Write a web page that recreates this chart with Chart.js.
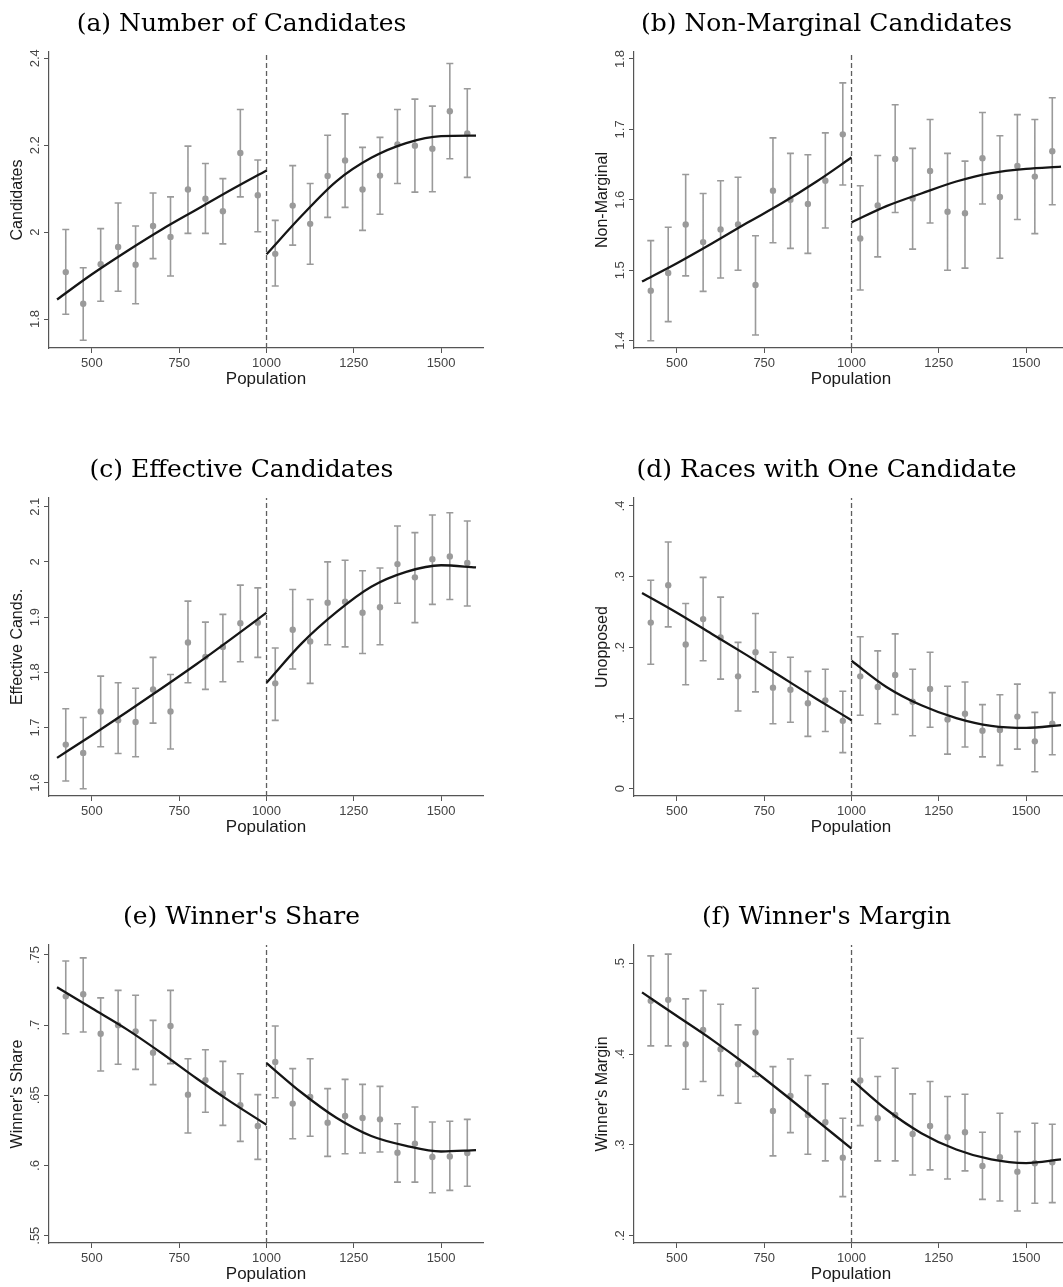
<!DOCTYPE html>
<html>
<head>
<meta charset="utf-8">
<script src="https://cdn.jsdelivr.net/npm/chart.js@4.4.1/dist/chart.umd.min.js"></script>
<style>
html,body{margin:0;padding:0;background:#fff;overflow:hidden;width:1063px;height:1287px;position:relative;}
canvas{position:absolute;}
</style>
</head>
<body>
<canvas id="pa" width="496" height="400" style="left:0px;top:0px"></canvas>
<canvas id="pb" width="496" height="400" style="left:585px;top:0px"></canvas>
<canvas id="pc" width="496" height="402" style="left:0px;top:446px"></canvas>
<canvas id="pd" width="496" height="402" style="left:585px;top:446px"></canvas>
<canvas id="pe" width="496" height="402" style="left:0px;top:893px"></canvas>
<canvas id="pf" width="496" height="402" style="left:585px;top:893px"></canvas>
<script>
// ---------- shared x data ----------
const bins = [425,475,525,575,625,675,725,775,825,875,925,975,1025,1075,1125,1175,1225,1275,1325,1375,1425,1475,1525,1575];
const fitXLeft = [400,500,600,700,800,900,1000];
const fitXRight = [1000,1100,1200,1300,1400,1500,1600];
const xTicks = [500,750,1000,1250,1500];
const xTickLabels = ['500','750','1000','1250','1500'];
const cutoff = 1000;

// ---------- (a) Number of Candidates ----------
const candMean = [1.908,1.835,1.926,1.966,1.925,2.014,1.989,2.098,2.077,2.048,2.182,2.085,1.950,2.061,2.019,2.129,2.165,2.098,2.130,2.202,2.199,2.192,2.278,2.227];
const candHi   = [2.006,1.918,2.008,2.067,2.014,2.090,2.081,2.198,2.158,2.123,2.282,2.166,2.027,2.153,2.112,2.223,2.272,2.195,2.218,2.282,2.306,2.290,2.388,2.330];
const candLo   = [1.811,1.751,1.841,1.864,1.835,1.939,1.899,1.997,1.997,1.973,2.081,2.001,1.876,1.970,1.926,2.034,2.057,2.004,2.041,2.112,2.092,2.093,2.169,2.126];
const candFitL = [1.845,1.903,1.956,2.006,2.052,2.098,2.142];
const candFitR = [1.949,2.037,2.117,2.171,2.205,2.221,2.222];
const candTicks = [1.8,2.0,2.2,2.4];
const candTickLabels = ['1.8','2','2.2','2.4'];

// ---------- (b) Non-Marginal Candidates ----------
const nmMean = [1.471,1.496,1.565,1.540,1.558,1.565,1.479,1.613,1.600,1.594,1.627,1.693,1.545,1.592,1.658,1.602,1.641,1.583,1.581,1.659,1.604,1.648,1.633,1.669];
const nmHi   = [1.542,1.561,1.636,1.609,1.627,1.632,1.549,1.688,1.666,1.664,1.695,1.766,1.620,1.663,1.735,1.673,1.714,1.666,1.655,1.724,1.691,1.721,1.714,1.745];
const nmLo   = [1.400,1.427,1.492,1.470,1.489,1.500,1.408,1.539,1.531,1.524,1.560,1.621,1.472,1.519,1.582,1.530,1.567,1.500,1.503,1.594,1.517,1.572,1.552,1.593];
const nmFitL = [1.484,1.510,1.538,1.567,1.595,1.626,1.660];
const nmFitR = [1.568,1.591,1.609,1.626,1.638,1.644,1.647];
const nmTicks = [1.4,1.5,1.6,1.7,1.8];
const nmTickLabels = ['1.4','1.5','1.6','1.7','1.8'];

// ---------- (c) Effective Candidates ----------
const effMean = [1.669,1.654,1.729,1.713,1.710,1.769,1.729,1.854,1.828,1.846,1.889,1.890,1.780,1.877,1.856,1.926,1.928,1.908,1.918,1.996,1.972,2.005,2.010,1.998];
const effHi   = [1.734,1.718,1.793,1.781,1.771,1.827,1.796,1.929,1.891,1.905,1.958,1.953,1.844,1.950,1.932,2.000,2.003,1.984,1.989,2.065,2.053,2.085,2.089,2.074];
const effLo   = [1.603,1.589,1.665,1.653,1.647,1.708,1.661,1.781,1.769,1.783,1.819,1.827,1.713,1.806,1.780,1.850,1.846,1.834,1.850,1.925,1.890,1.923,1.932,1.920];
const effFitL = [1.645,1.686,1.728,1.771,1.815,1.861,1.908];
const effFitR = [1.781,1.852,1.909,1.955,1.982,1.994,1.990];
const effTicks = [1.6,1.7,1.8,1.9,2.0,2.1];
const effTickLabels = ['1.6','1.7','1.8','1.9','2','2.1'];

// ---------- (d) Races with One Candidate ----------
const unoMean = [0.235,0.288,0.204,0.240,0.214,0.159,0.193,0.143,0.140,0.121,0.125,0.096,0.159,0.144,0.161,0.123,0.141,0.098,0.106,0.082,0.083,0.102,0.067,0.092];
const unoHi   = [0.295,0.349,0.262,0.299,0.271,0.207,0.248,0.193,0.186,0.166,0.169,0.138,0.215,0.195,0.219,0.169,0.193,0.145,0.151,0.119,0.133,0.148,0.108,0.136];
const unoLo   = [0.176,0.229,0.147,0.181,0.155,0.110,0.137,0.092,0.094,0.074,0.081,0.051,0.104,0.092,0.105,0.075,0.087,0.049,0.059,0.045,0.033,0.056,0.024,0.048];
const unoFitL = [0.277,0.249,0.219,0.189,0.158,0.127,0.097];
const unoFitR = [0.181,0.144,0.118,0.100,0.089,0.086,0.090];
const unoTicks = [0,0.1,0.2,0.3,0.4];
const unoTickLabels = ['0','.1','.2','.3','.4'];

// ---------- (e) Winner's Share ----------
const shareMean = [0.7205,0.7220,0.6939,0.7000,0.6956,0.6804,0.6994,0.6505,0.6607,0.6512,0.6429,0.6281,0.6738,0.6441,0.6488,0.6305,0.6353,0.6338,0.6329,0.6091,0.6156,0.6061,0.6065,0.6089];
const shareHi   = [0.7457,0.7479,0.7194,0.7248,0.7213,0.7034,0.7248,0.6761,0.6825,0.6742,0.6654,0.6505,0.6994,0.6690,0.6761,0.6548,0.6614,0.6578,0.6564,0.6298,0.6417,0.6310,0.6315,0.6329];
const shareLo   = [0.6939,0.6951,0.6673,0.6721,0.6685,0.6576,0.6726,0.6232,0.6379,0.6286,0.6172,0.6044,0.6483,0.6191,0.6208,0.6065,0.6084,0.6089,0.6096,0.5882,0.5882,0.5806,0.5823,0.5852];
const shareFitL = [0.727,0.712,0.697,0.680,0.662,0.645,0.629];
const shareFitR = [0.673,0.652,0.634,0.621,0.614,0.610,0.611];
const shareTicks = [0.55,0.6,0.65,0.7,0.75];
const shareTickLabels = ['.55','.6','.65','.7','.75'];

// ---------- (f) Winner's Margin ----------
const marMean = [0.4587,0.4598,0.4109,0.4267,0.4054,0.3889,0.4238,0.3375,0.3540,0.3331,0.3250,0.2860,0.3709,0.3294,0.3331,0.3121,0.3209,0.3084,0.3140,0.2769,0.2864,0.2706,0.2798,0.2809];
const marHi   = [0.5082,0.5101,0.4609,0.4700,0.4550,0.4322,0.4726,0.3863,0.3947,0.3764,0.3672,0.3294,0.4175,0.3753,0.3845,0.3562,0.3698,0.3533,0.3558,0.3140,0.3349,0.3147,0.3239,0.3228];
const marLo   = [0.4091,0.4091,0.3613,0.3698,0.3544,0.3459,0.3753,0.2879,0.3136,0.2897,0.2824,0.2431,0.3213,0.2824,0.2824,0.2669,0.2725,0.2625,0.2714,0.2401,0.2383,0.2273,0.2357,0.2365];
const marFitL = [0.468,0.442,0.416,0.388,0.358,0.327,0.296];
const marFitR = [0.372,0.339,0.313,0.295,0.284,0.280,0.284];
const marTicks = [0.2,0.3,0.4,0.5];
const marTickLabels = ['.2','.3','.4','.5'];

// ---------- drawing ----------
const SANS = "'Liberation Sans', Arial, sans-serif";
const SERIF = "'DejaVu Serif', serif";
const Y_AXIS_W = 49, X_AXIS_H = 52, LABEL_CENTER_FROM_AXIS = 14, TICK_LEN = 5;
const CAP = 10;

const measureCtx = document.createElement('canvas').getContext('2d');
measureCtx.font = "13px " + SANS;

function errorBarData(xs, lo, hi) {
  const d = [];
  xs.forEach((x, i) => {
    d.push({x: x, y: lo[i]}, {x: x, y: hi[i]}, {x: x, y: null});
    d.push({x: x - CAP, y: hi[i]}, {x: x + CAP, y: hi[i]}, {x: x, y: null});
    d.push({x: x - CAP, y: lo[i]}, {x: x + CAP, y: lo[i]}, {x: x, y: null});
  });
  return d;
}
function pts(xs, ys) { return xs.map((x, i) => ({x: x, y: ys[i]})); }

function makePanel(id, title, yTitle, mean, lo, hi, fitL, fitR, yTicks, yLabels, yMin, yMax) {
  const widest = Math.max(...yLabels.map(l => measureCtx.measureText(l).width));
  const yPad = LABEL_CENTER_FROM_AXIS - TICK_LEN - widest / 2;
  new Chart(document.getElementById(id), {
    type: 'scatter',
    data: {
      datasets: [
        {data: [{x: cutoff, y: yMin}, {x: cutoff, y: yMax}], showLine: true, pointRadius: 0,
         borderColor: '#5e5e5e', borderWidth: 1.3, borderDash: [5, 3], order: 4},
        {data: errorBarData(bins, lo, hi), showLine: true, spanGaps: false, pointRadius: 0,
         borderColor: '#9a9a9a', borderWidth: 1.6, order: 3},
        {data: pts(bins, mean), pointRadius: 3.2, backgroundColor: '#9a9a9a', borderWidth: 0, order: 2},
        {data: pts(fitXLeft, fitL), showLine: true, pointRadius: 0, cubicInterpolationMode: 'monotone',
         borderColor: '#151515', borderWidth: 2.3, order: 1},
        {data: pts(fitXRight, fitR), showLine: true, pointRadius: 0, cubicInterpolationMode: 'monotone',
         borderColor: '#151515', borderWidth: 2.3, order: 0}
      ]
    },
    options: {
      responsive: false, animation: false, events: [],
      layout: {padding: {left: 0, right: 13, top: 0, bottom: 0}},
      plugins: {
        legend: {display: false}, tooltip: {enabled: false},
        title: {display: true, text: title, color: '#000',
                font: {family: SERIF, size: 25, weight: 'normal', lineHeight: 1.2},
                padding: {top: 9, bottom: 13}}
      },
      scales: {
        x: {
          type: 'linear', min: 377, max: 1620,
          afterBuildTicks: s => { s.ticks = xTicks.map(v => ({value: v})); },
          afterFit: s => { s.height = X_AXIS_H; },
          grid: {drawOnChartArea: false, drawTicks: true, tickLength: TICK_LEN, color: '#555', lineWidth: 1},
          border: {display: true, color: '#555', width: 1.2},
          ticks: {font: {family: SANS, size: 13}, color: '#444', padding: 3, maxRotation: 0, autoSkip: false,
                  callback: (v, i) => xTickLabels[i]},
          title: {display: true, text: 'Population', color: '#1a1a1a',
                  font: {family: SANS, size: 17, lineHeight: 1.2}, padding: {top: 0, bottom: 10}}
        },
        y: {
          type: 'linear', min: yMin, max: yMax,
          afterBuildTicks: s => { s.ticks = yTicks.map(v => ({value: v})); },
          afterFit: s => { s.width = Y_AXIS_W; },
          grid: {drawOnChartArea: false, drawTicks: true, tickLength: TICK_LEN, color: '#555', lineWidth: 1},
          border: {display: true, color: '#555', width: 1.2},
          ticks: {font: {family: SANS, size: 13}, color: '#444', padding: yPad, minRotation: 90, maxRotation: 90,
                  crossAlign: 'center', autoSkip: false,
                  callback: (v, i) => yLabels[i]},
          title: {display: true, text: yTitle, color: '#1a1a1a',
                  font: {family: SANS, size: 16, lineHeight: 1.2}, padding: {top: 8, bottom: 0}}
        }
      }
    }
  });
}

makePanel('pa', '(a) Number of Candidates', 'Candidates', candMean, candLo, candHi, candFitL, candFitR, candTicks, candTickLabels, 1.7333, 2.4145);
makePanel('pb', '(b) Non-Marginal Candidates', 'Non-Marginal', nmMean, nmLo, nmHi, nmFitL, nmFitR, nmTicks, nmTickLabels, 1.3896, 1.8099);
makePanel('pc', '(c) Effective Candidates', 'Effective Cands.', effMean, effLo, effHi, effFitL, effFitR, effTicks, effTickLabels, 1.5759, 2.1158);
makePanel('pd', '(d) Races with One Candidate', 'Unopposed', unoMean, unoLo, unoHi, unoFitL, unoFitR, unoTicks, unoTickLabels, -0.0103, 0.4113);
makePanel('pe', "(e) Winner's Share", "Winner's Share", shareMean, shareLo, shareHi, shareFitL, shareFitR, shareTicks, shareTickLabels, 0.5448, 0.7571);
makePanel('pf', "(f) Winner's Margin", "Winner's Margin", marMean, marLo, marHi, marFitL, marFitR, marTicks, marTickLabels, 0.192, 0.5202);
</script>
</body>
</html>
